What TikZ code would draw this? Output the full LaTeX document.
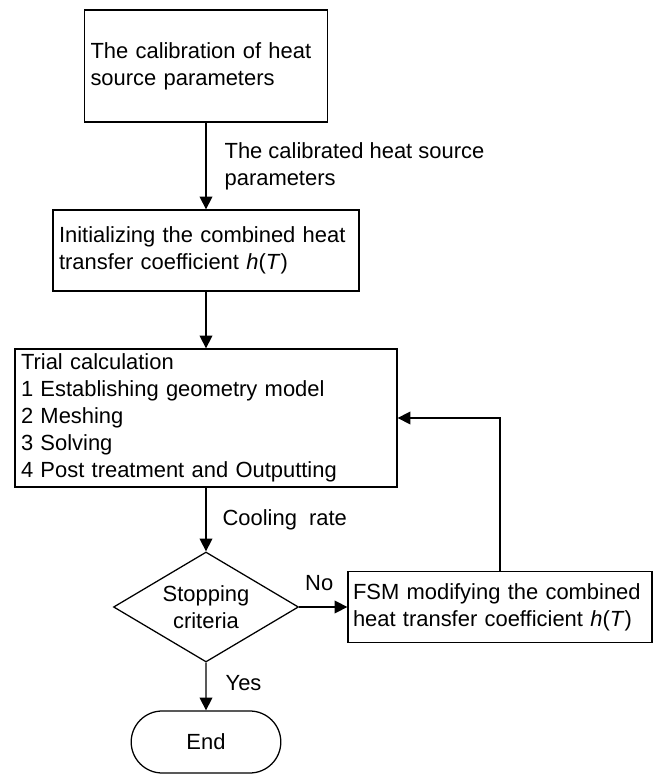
\documentclass[tikz,border=0pt]{standalone}
\usepackage{fontspec}
\setmainfont{Liberation Sans}
\usetikzlibrary{shapes.geometric,shapes.misc,arrows.meta,positioning}

\begin{document}
\hyphenpenalty=10000
\begin{tikzpicture}[>={Triangle[length=3.2mm,width=3.2mm]},
  every node/.style={font=\fontsize{15.6}{19.2}\selectfont},
  box/.style={draw, line width=0.9pt, align=left, inner xsep=0.15cm, inner ysep=0pt},
  flow/.style={->, line width=0.9pt}]
  % page size 654 x 775 px, 1 px = 0.025 cm
  \useasboundingbox (0,0) rectangle (16.35,19.375);

  % Process boxes
  \node[box, text width=5.775cm, minimum height=2.8cm] (calib) at (5.15,17.725) {The calibration of heat\\source parameters};
  \node[box, text width=7.35cm, minimum height=2.025cm] (init) at (5.15,13.1125) {Initializing the combined heat\\transfer coefficient \textit{h}(\textit{T})};
  \node[box, text width=9.25cm, minimum height=3.45cm] (trial) at (5.15,8.925) {Trial calculation\\1 Establishing geometry model\\2 Meshing\\3 Solving\\4 Post treatment and Outputting};

  % Decision and correction
  \node[draw, diamond, aspect=1.68, line width=0.9pt, minimum width=4.625cm, minimum height=2.75cm, inner sep=0pt, align=center] (stop) at (5.15,4.2) {Stopping\\criteria};
  \node[box, inner xsep=0.125cm, text width=7.35cm, minimum height=1.775cm] (fsm) at (12.5,4.2) {FSM modifying the combined\\heat transfer coefficient \textit{h}(\textit{T})};

  % Terminal
  \node[draw, rounded rectangle, line width=0.9pt, minimum width=3.975cm, minimum height=1.55cm] (end) at (5.15,0.825) {End};

  % Connectors
  \draw[flow] (calib) -- (init) node[midway, right=0.45cm, align=left, inner sep=0pt] {The calibrated heat source\\parameters};
  \draw[flow] (init) -- (trial);
  \draw[flow] (trial) -- (stop) node[midway, right=0.4cm, inner sep=0pt] {Cooling\ \ rate};
  \draw[flow] (stop) -- (fsm) node[midway, above=0.4cm, xshift=-0.1cm, inner sep=0pt] {No};
  \draw[flow] (stop) -- (end) node[pos=0.42, right=0.475cm, inner sep=0pt] {Yes};
  \draw[flow] (fsm.north) |- (trial.east);
\end{tikzpicture}
\end{document}
